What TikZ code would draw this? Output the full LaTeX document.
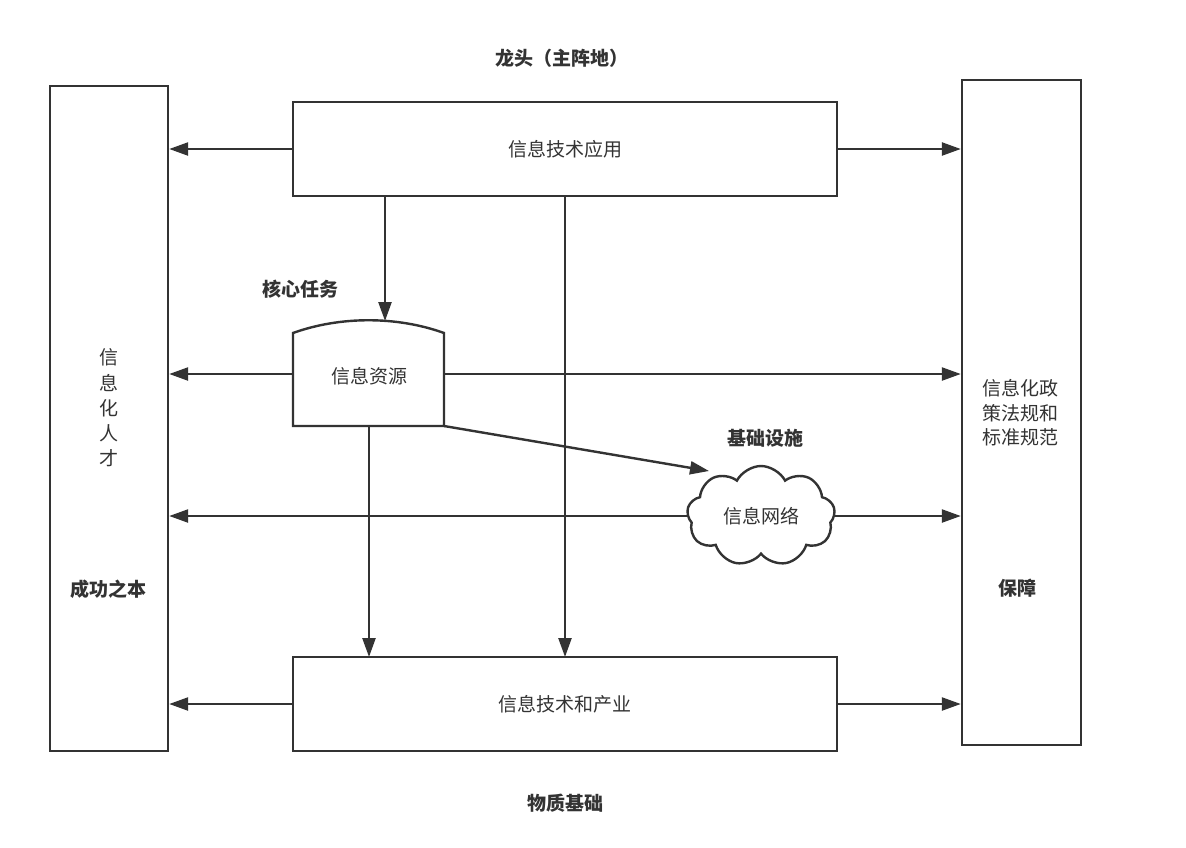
\documentclass[tikz,border=0pt]{standalone}
\usepackage{fontspec}
\setmainfont{Noto Sans CJK SC}
\usetikzlibrary{arrows.meta,shapes.symbols}
\definecolor{ln}{HTML}{333333}
\definecolor{tx}{HTML}{333333}
\tikzset{
  boxn/.style={draw=ln,line width=2.4pt,inner sep=0pt,font=\fontsize{19}{23}\selectfont,text=tx},
  lbl/.style={font=\fontsize{19}{23}\selectfont\bfseries,text=tx,inner sep=0pt},
  arr/.style={draw=ln,line width=2.4pt,-{Triangle[length=19pt,width=13pt]}},
}
\begin{document}
\begin{tikzpicture}[x=1pt,y=-1pt]
\useasboundingbox[fill=white] (0,0) rectangle (1186,847);
% boxes
\node[boxn,minimum width=118pt,minimum height=665pt] (left) at (109,418.5) {};
\node[boxn,minimum width=119pt,minimum height=665pt] (right) at (1021.5,412.5) {};
\node[boxn,minimum width=544pt,minimum height=94pt] (top) at (565,149) {信息技术应用};
\node[boxn,minimum width=544pt,minimum height=94pt] (bot) at (565,704) {信息技术和产业};
% resource shape
\node[inner sep=0pt,minimum width=151pt,minimum height=104pt] (res) at (368.5,374) {};
\draw[ln,line width=2.4pt,line join=miter] (293,426) -- (293,333) .. controls (340,316) and (397,316) .. (444,333) -- (444,426) -- cycle;
\node[font=\fontsize{19}{23}\selectfont,text=tx,inner sep=0pt] (restext) at (369,376) {信息资源};
% cloud
\node[cloud,cloud puffs=9,cloud puff arc=125,aspect=1.5,draw=ln,line width=2.4pt,inner sep=0pt,minimum width=148pt,minimum height=100pt,font=\fontsize{19}{23}\selectfont,text=tx] (cloud) at (761,516) {信息网络};
% texts in side boxes
\node[font=\fontsize{19}{25.2}\selectfont,text=tx,align=center,inner sep=0pt] (ltext) at (109,408) {信\\息\\化\\人\\才};
\node[font=\fontsize{19}{24.5}\selectfont,text=tx,align=center,inner sep=0pt] (rtext) at (1020,413) {信息化政\\策法规和\\标准规范};
% bold labels
\node[lbl] (l1) at (562,58) {龙头（主阵地）};
\node[lbl] (l2) at (300,289) {核心任务};
\node[lbl] (l3) at (765,438) {基础设施};
\node[lbl] (l4) at (565,803) {物质基础};
\node[lbl] (l5) at (108,589) {成功之本};
\node[lbl] (l6) at (1017,588) {保障};
% coordinates
\coordinate (t1) at (385,196);
\coordinate (t1e) at (385,321);
\coordinate (t2) at (565,196);
\coordinate (t2e) at (565,657);
\coordinate (r1) at (369,426);
\coordinate (r1e) at (369,657);
\coordinate (rse) at (444,426);
\coordinate (cin) at (709,471);
% arrows
\draw[arr] (top.west) -- (top.west -| left.east);
\draw[arr] (top.east) -- (top.east -| right.west);
\draw[arr] (t1) -- (t1e);
\draw[arr] (t2) -- (t2e);
\draw[arr] (res.west) -- (res.west -| left.east);
\draw[arr] (res.east) -- (res.east -| right.west);
\draw[arr] (rse) -- (cin);
\draw[arr] (r1) -- (r1e);
\draw[arr] (cloud.west) -- (cloud.west -| left.east);
\draw[arr] (cloud.east) -- (cloud.east -| right.west);
\draw[arr] (bot.west) -- (bot.west -| left.east);
\draw[arr] (bot.east) -- (bot.east -| right.west);
\end{tikzpicture}
\end{document}
